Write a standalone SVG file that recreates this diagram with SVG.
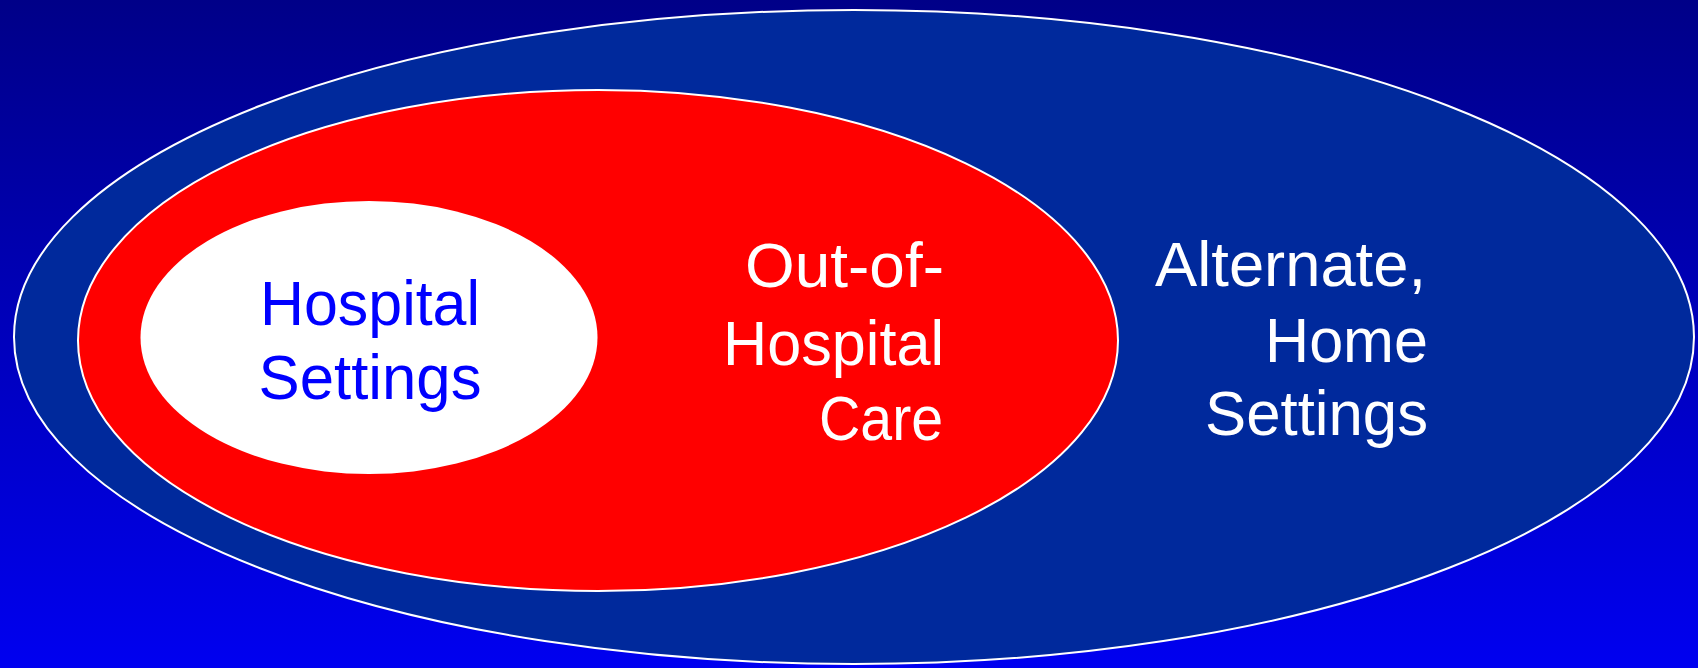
<svg xmlns="http://www.w3.org/2000/svg" width="1698" height="668" viewBox="0 0 1698 668">
  <defs>
    <linearGradient id="bg" x1="0" y1="0" x2="0" y2="1">
      <stop offset="0" stop-color="#000088"/>
      <stop offset="1" stop-color="#0000f0"/>
    </linearGradient>
  </defs>
  <style>
    .lbl { font-family: "Liberation Sans", Arial, sans-serif; font-size: 63px; }
    .end { text-anchor: end; }
    .mid { text-anchor: middle; }
    .ring { stroke: #ffffff; stroke-width: 2; }
  </style>
  <rect width="1698" height="668" fill="url(#bg)"/>

  <g id="alternate-home-settings">
    <ellipse class="ring" cx="854" cy="337" rx="840" ry="327" fill="#00299c"/>
    <text class="lbl end" fill="#ffffff" x="1426" y="286" textLength="271" lengthAdjust="spacingAndGlyphs">Alternate,</text>
    <text class="lbl end" fill="#ffffff" x="1428" y="362" textLength="163" lengthAdjust="spacingAndGlyphs">Home</text>
    <text class="lbl end" fill="#ffffff" x="1428" y="435" textLength="223" lengthAdjust="spacingAndGlyphs">Settings</text>
  </g>

  <g id="out-of-hospital-care">
    <ellipse class="ring" cx="598" cy="340.5" rx="520" ry="250.5" fill="#ff0000"/>
    <text class="lbl end" fill="#ffffff" x="944" y="287" textLength="199" lengthAdjust="spacingAndGlyphs">Out-of-</text>
    <text class="lbl end" fill="#ffffff" x="944" y="365" textLength="221" lengthAdjust="spacingAndGlyphs">Hospital</text>
    <text class="lbl end" fill="#ffffff" x="943" y="440" textLength="124" lengthAdjust="spacingAndGlyphs">Care</text>
  </g>

  <g id="hospital-settings">
    <ellipse cx="369" cy="337.5" rx="228.5" ry="136.5" fill="#ffffff"/>
    <text class="lbl mid" fill="#0000ff" x="370" y="325" textLength="220" lengthAdjust="spacingAndGlyphs">Hospital</text>
    <text class="lbl mid" fill="#0000ff" x="370" y="399" textLength="223" lengthAdjust="spacingAndGlyphs">Settings</text>
  </g>

  <g id="connectors"/>
</svg>
